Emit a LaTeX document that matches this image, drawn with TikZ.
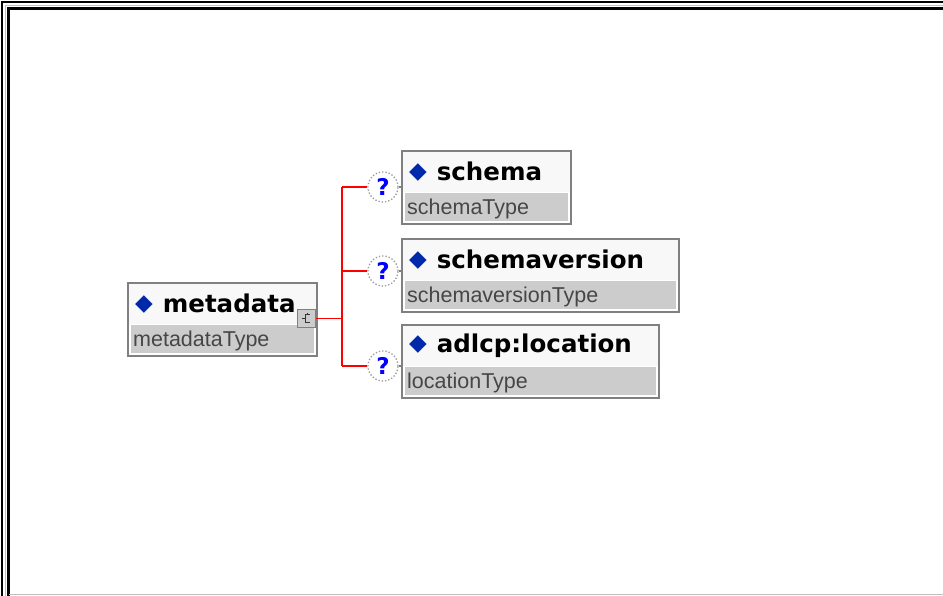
\documentclass[tikz,border=0pt]{standalone}
\usepackage{xcolor}
\usepackage{fontspec}
\usepackage{tikz}
\usetikzlibrary{positioning}

\newfontfamily\elemfont{DejaVu Sans}
\newfontfamily\typefont{Liberation Sans}

\definecolor{boxgray}{RGB}{128,128,128}
\definecolor{boxfill}{RGB}{248,248,248}
\definecolor{bandgray}{RGB}{204,204,204}
\definecolor{typetext}{RGB}{70,70,70}
\definecolor{linkred}{RGB}{255,0,0}
\definecolor{qblue}{RGB}{0,0,255}
\definecolor{diamondblue}{RGB}{0,40,170}

\newcommand{\elemmark}{\raisebox{2pt}{\fontsize{23}{23}\selectfont\textcolor{diamondblue}{◆}}\hspace{10pt}}

\begin{document}
\begin{tikzpicture}[x=1pt, y=-1pt,
			elemtitle/.style={anchor=north west, minimum height=41, inner xsep=7, inner ysep=0, align=left, fill=boxfill, font=\elemfont\bfseries\fontsize{24.5}{24.5}\selectfont},
			elemtype/.style={anchor=north west, minimum height=28, inner xsep=2, inner ysep=0, align=left, fill=bandgray, text=typetext, text height=17pt, text depth=1pt, font=\typefont\fontsize{21.5}{21.5}\selectfont},
			elemframe/.style={draw=boxgray, line width=2},
			optmark/.style={circle, draw=gray!80, dotted, line width=1.3, fill=white, minimum size=30, inner sep=0, text=qblue, font=\elemfont\bfseries\fontsize{23}{23}\selectfont},
			expander/.style={rectangle, draw=boxgray, fill=bandgray, line width=1.5, minimum size=18, inner sep=0},
			link/.style={draw=linkred, line width=1.6}
		]
		\useasboundingbox (0,0) rectangle (943,596);
		\fill[white] (0,0) rectangle (943,596);
		% window frame
		\draw[black, line width=2] (2,596) -- (2,2) -- (943,2);
		\draw[gray!50, line width=0.8] (5,596) -- (5,5) -- (943,5);
		\draw[black, line width=2.5] (8.5,596) -- (8.5,8.5) -- (943,8.5);
		\draw[gray!50, line width=1.5] (8.5,594.5) -- (943,594.5);

		\node[elemtitle, text width=175pt] (metadata) at (128,283) {\elemmark metadata};
		\node[elemtype, text width=179pt, below=0pt of metadata.south west, anchor=north west, xshift=3pt] (metadataType) {metadataType};
		\draw[elemframe] (metadata.north west) rectangle ([shift={(3,3)}]metadataType.south east);
		\node[expander] (metadataExp) at (306.5,318.5) {};
		\draw[black!80, line width=1] ([shift={(3,-4)}]metadataExp.center) -- ([shift={(-1,-4)}]metadataExp.center) -- ([shift={(-1,4)}]metadataExp.center) -- ([shift={(3,4)}]metadataExp.center);
		\draw[black!80, line width=1] ([shift={(-5,0)}]metadataExp.center) -- ([shift={(-1,0)}]metadataExp.center);
		\draw[black!80, line width=1] ([shift={(1,-6)}]metadataExp.center) -- ([shift={(1,-4)}]metadataExp.center);

		\node[elemtitle, text width=155pt] (schema) at (402,151) {\elemmark schema};
		\node[elemtype, text width=159pt, below=0pt of schema.south west, anchor=north west, xshift=3pt] (schemaType) {schemaType};
		\draw[elemframe] (schema.north west) rectangle ([shift={(3,3)}]schemaType.south east);

		\node[elemtitle, text width=263pt] (schemaversion) at (402,239) {\elemmark schemaversion};
		\node[elemtype, text width=267pt, below=0pt of schemaversion.south west, anchor=north west, xshift=3pt] (schemaversionType) {schemaversionType};
		\draw[elemframe] (schemaversion.north west) rectangle ([shift={(3,3)}]schemaversionType.south east);

		\node[elemtitle, text width=243pt] (location) at (402,325) {\elemmark adlcp:location};
		\node[elemtype, text width=247pt, below=0pt of location.south west, anchor=north west, xshift=3pt] (locationType) {locationType};
		\draw[elemframe] (location.north west) rectangle ([shift={(3,3)}]locationType.south east);

		\node[optmark] (qschema) at (383,187) {?};
		\node[optmark] (qversion) at (383,271) {?};
		\node[optmark] (qlocation) at (383,366) {?};

		\coordinate (trunk) at (342,318.5);
		\draw[link] (metadataExp.east) -- (trunk);
		\draw[link] (trunk |- qschema) -- (trunk |- qlocation);
		\draw[link] (trunk |- qschema) -- (qschema);
		\draw[link] (trunk |- qversion) -- (qversion);
		\draw[link] (trunk |- qlocation) -- (qlocation);
		\draw[boxgray, line width=1.5] (qschema.east) -- (qschema.east -| schema.west);
		\draw[boxgray, line width=1.5] (qversion.east) -- (qversion.east -| schemaversion.west);
		\draw[boxgray, line width=1.5] (qlocation.east) -- (qlocation.east -| location.west);
\end{tikzpicture}
\end{document}
